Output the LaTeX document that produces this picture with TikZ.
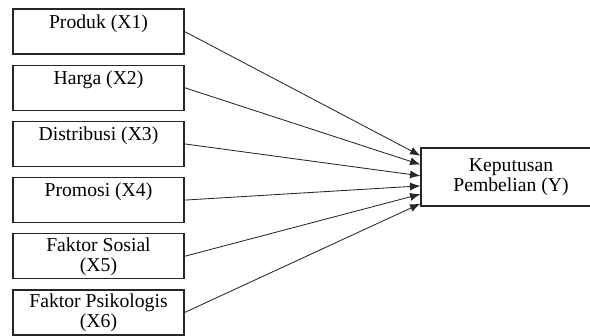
\documentclass[tikz,border=0pt]{standalone}
\usepackage{fontspec}
\setmainfont{Liberation Serif}
\usetikzlibrary{arrows.meta,calc}

\begin{document}
\begin{tikzpicture}[
varbox/.style={draw=black!85,line width=0.8pt,minimum width=4.275cm,minimum height=1.125cm,align=center,inner sep=1pt,font=\fontsize{14}{14.2}\selectfont},
effect/.style={-{Latex[length=2.6mm,width=2mm]},black!85,line width=0.6pt}
]
\useasboundingbox (0,0) rectangle (14.75,-8.4);
\clip (0,0) rectangle (14.75,-8.4);

\node[varbox] (x1) at (2.4625,-0.7875) {Produk (X1)\\ \mbox{}};
\node[varbox] (x2) at (2.4625,-2.1925) {Harga (X2)\\ \mbox{}};
\node[varbox] (x3) at (2.4625,-3.5975) {Distribusi (X3)\\ \mbox{}};
\node[varbox] (x4) at (2.4625,-5.0025) {Promosi (X4)\\ \mbox{}};
\node[varbox] (x5) at (2.4625,-6.4075) {Faktor Sosial\\(X5)};
\node[varbox] (x6) at (2.4625,-7.8125) {Faktor Psikologis\\(X6)};

\node[varbox,minimum width=4.5cm,minimum height=1.45cm] (y) at (12.775,-4.425) {Keputusan\\Pembelian (Y)};

% arrows into the west side of y
\foreach \src/\f in {x1/0.14,x2/0.29,x3/0.48,x4/0.65,x5/0.79,x6/0.95}
  \draw[effect] (\src.east) -- ($(y.north west)!\f!(y.south west)$);
\end{tikzpicture}
\end{document}
